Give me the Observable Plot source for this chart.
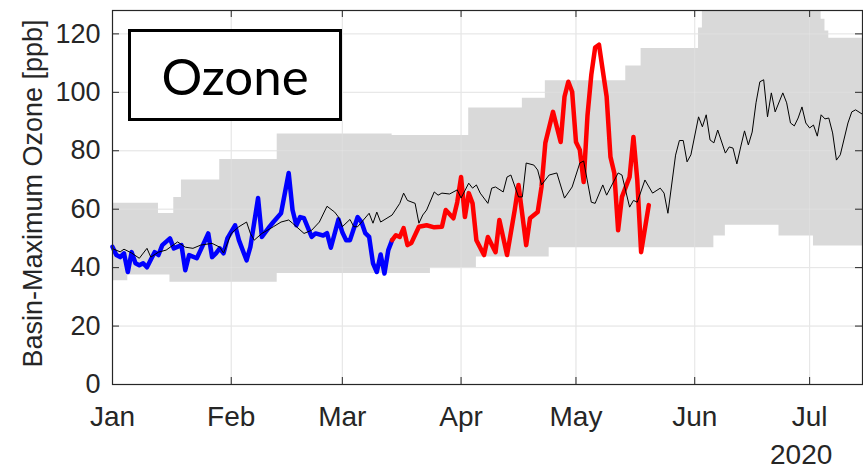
<!DOCTYPE html>
<html>
<head>
<meta charset="utf-8">
<script src="https://cdn.jsdelivr.net/npm/d3@7"></script>
<script src="https://cdn.jsdelivr.net/npm/@observablehq/plot@0.6"></script>
<style>
  html, body { margin: 0; padding: 0; background: #fff; }
  #wrap { position: relative; width: 863px; height: 470px; overflow: hidden; font-family: "Liberation Sans", Arial, sans-serif; }
  #panel { position: absolute; left: 128px; top: 29px; width: 214px; height: 92px; box-sizing: border-box;
           border: 3px solid #000; background: #fff; display: flex; align-items: center; justify-content: center;
           font-family: Lato, "Open Sans", sans-serif; font-size: 51px; color: #000; }
  #year { position: absolute; left: 770px; top: 441px; font-size: 28px; line-height: 28px; color: #262626; }
</style>
</head>
<body>
<div id="wrap"></div>
<script>
// ---------- data (days after 2020-01-01, values in ppb) ----------
const monthTicks = ["2020-01-01","2020-02-01","2020-03-01","2020-04-01","2020-05-01","2020-06-01","2020-07-01"];
const monthLabels = ["Jan","Feb","Mar","Apr","May","Jun","Jul"];
const yTicks = [0, 20, 40, 60, 80, 100, 120];
const yearLabel = "2020";
const yLabel = "Basin-Maximum Ozone [ppb]";
const panelLabel = "Ozone";

// historical range band (step breakpoints)
const bandDay = [0, 4, 12, 15, 16, 18, 28, 43, 73, 83, 93, 95, 107, 113, 114, 134, 138, 153, 154, 157, 160, 174, 183, 185, 186, 187, 196];
const bandHi  = [62, 62, 58.5, 58.5, 64, 70, 77, 85.7, 85.2, 85.2, 94.6, 94.6, 98, 104, 104, 109, 115, 122, 140, 140, 140, 140, 140, 125, 121, 118.5, 118.5];
const bandLo  = [35.5, 37.5, 37.5, 35, 35, 35, 35, 38, 38, 40, 40, 43.6, 43.6, 43.6, 46.8, 46.8, 46.8, 46.8, 46.8, 50.8, 54.5, 50.8, 47.4, 47.4, 47.4, 47.4, 47.4];

// black line: typical year
const blackDay = [0,2,3,5,7,9,10,12,14,17,19,21,23,26,28,29,31,33,35,36,37,39,42,44,46,47,50,52,54,56,58,59,60,62,63,64,67,68,69,70,73,75,76,77,79,80,81,82,84,85,86,88,90,91,93,94,95,96,98,99,100,102,103,104,106,107,108,110,111,112,114,116,118,120,122,123,125,126,128,129,132,133,135,136,137,139,141,143,144,145,147,148,149,150,151,153,154,155,156,157,158,160,161,162,163,164,165,166,167,168,169,170,171,172,173,175,176,177,178,179,180,181,182,183,184,185,186,187,188,189,190,192,193,194,196];
const blackVal = [46.5,45.4,46.3,45,43.2,46.6,43.6,45.3,46,48.8,47,46.6,47.7,48.3,47,45,51.7,54,55.6,51.7,49.4,51.7,54,55.6,56.3,55.2,51.7,52.8,55.6,61,59,57.3,54,56.5,54,54,58.6,55.2,59,55.6,58,62,65.5,63,62,55.2,58,59.7,65.9,64.8,65.5,65.2,66.6,63.8,68.9,67.2,68.3,65.5,62,67.2,67.6,65.9,71,71.7,64.2,64.2,75.8,75.1,73.4,68.3,71.7,72.4,63.8,67.6,75.8,76.5,62.4,62,68.3,64.8,72.4,71.7,60.7,63,62.4,70,65.5,67.2,65.5,58.6,78.5,83.5,83.5,76.2,78.6,91.6,88.2,92.3,83.7,82.7,87.1,79.2,81.3,80.9,75.5,81.3,86.8,82,86.4,96.4,103.6,104.3,91.6,99.8,93.3,99.8,96.4,89.5,88.5,91.2,95,89.5,87.8,88.8,85,92.3,90.9,91.2,86.1,76.8,78.6,89.5,93.3,94,92.3];

// blue line: 2020 before stay-at-home
const blueDay = [0,1,2,3,4,5,6,7,8,9,11,12,13,15,16,18,19,20,22,23,25,26,27,28,29,30,32,33,35,36,38,39,41,42,44,46,47,48,49,50,52,53,55,56,57,59,60,61,62,64,65,66,67,68,69,70,71,72,73];
const blueVal = [47.1,44.3,43.6,44.9,38.5,45.3,41.5,40.8,41.5,40.1,45.3,44.3,47.7,50,46.6,47.7,39.1,44.3,43.2,46,51.7,43.6,44.9,46.6,44.9,50,54.5,49.4,42.5,47.1,63.8,50.5,54,55.6,58.6,72.4,59.7,54.5,57.3,56.9,50.5,51.7,51,51.8,46.8,56.5,52.1,49.4,49.4,57.3,55.6,51.8,50.5,41.5,38.5,44.5,38,46,49.4];

// red line: 2020 during stay-at-home
const redDay = [73,74,75,76,77,78,80,82,84,86,87,89,90,91,92,93,94,95,97,98,100,101,103,105,106,108,109,111,112,113,115,117,118,119,120,121,122,123,124,125,126,127,129,130,131,132,133,135,136,137,138,140];
const redVal = [49.4,51.1,50.5,53.5,47.7,48.4,54,54.5,53.8,54,59.7,56.9,62.4,71,57.3,65.5,62,49.4,44.3,50.5,45.3,56.3,44.3,59.7,68.3,47.7,56.9,59,67.6,82.7,93.3,83,98.5,103.6,100.2,83,80.3,69.3,92,106,115.3,116.3,98.5,77.9,72.4,52.8,64.2,71,84.7,70,45.3,61.4];

// ---------- build tables ----------
const t0 = Date.UTC(2020, 0, 1);
const toDate = d => new Date(t0 + d * 864e5);
const series = (days, vals) => days.map((d, i) => ({date: toDate(d), v: vals[i]}));
const band = bandDay.map((d, i) => ({date: toDate(d), hi: bandHi[i], lo: bandLo[i]}));
const black = series(blackDay, blackVal);
const blue = series(blueDay, blueVal);
const red = series(redDay, redVal);
const monthDates = monthTicks.map(s => new Date(s + "T00:00:00Z"));

const W = 863, H = 470, mL = 112, mR = 1, mT = 10, mB = 86;
const plotW = W - mL - mR, plotH = H - mT - mB;
const axisColor = "#262626";
const gridColor = "#e3e3e3";

const chart = Plot.plot({
  width: W, height: H,
  marginLeft: mL, marginRight: mR, marginTop: mT, marginBottom: mB,
  style: {fontFamily: "'Liberation Sans', Arial, sans-serif", fontSize: "27px", color: axisColor, background: "#fff", overflow: "visible"},
  x: {type: "utc", domain: [toDate(0), toDate(195.8)]},
  y: {domain: [0, 128]},
  marks: [
    Plot.gridY(yTicks, {stroke: gridColor, strokeOpacity: 1}),
    Plot.gridX(monthDates.slice(1), {stroke: gridColor, strokeOpacity: 1}),
    Plot.areaY(band, {x: "date", y1: "lo", y2: "hi", curve: "step-after", fill: "#d9d9d9", clip: true}),
    Plot.gridY(yTicks.slice(1), {stroke: "#ececec", strokeOpacity: 0.35}),
    Plot.gridX(monthDates.slice(1), {stroke: "#ececec", strokeOpacity: 0.35}),
    Plot.line(blue, {x: "date", y: "v", stroke: "#0000ff", strokeWidth: 4.5, strokeLinejoin: "round", strokeLinecap: "round"}),
    Plot.line(red, {x: "date", y: "v", stroke: "#ff0000", strokeWidth: 4.5, strokeLinejoin: "round", strokeLinecap: "round"}),
    Plot.line(black, {x: "date", y: "v", stroke: "#000", strokeWidth: 1, clip: true}),
    Plot.tickX(monthDates, {x: d => d, stroke: axisColor, insetTop: plotH - 7}),
    Plot.tickX(monthDates, {x: d => d, stroke: axisColor, insetBottom: plotH - 7}),
    Plot.tickY(yTicks, {y: d => d, stroke: axisColor, insetRight: plotW - 7}),
    Plot.tickY(yTicks, {y: d => d, stroke: axisColor, insetLeft: plotW - 7}),
    Plot.axisY(yTicks, {tickSize: 0, tickPadding: 12, label: null, fontSize: 27}),
    Plot.axisX(monthDates, {tickSize: 0, tickPadding: 22, label: null, fontSize: 28,
      tickFormat: d => monthLabels[monthDates.findIndex(m => +m === +d)]}),
    Plot.text([yLabel], {frameAnchor: "left", textAnchor: "middle", lineAnchor: "middle", rotate: -90, dx: -79, dy: -4, fontSize: 27, fill: axisColor}),
    Plot.frame({stroke: axisColor, strokeWidth: 1.2})
  ]
});

const wrap = document.getElementById("wrap");
wrap.appendChild(chart);
const panel = document.createElement("div");
panel.id = "panel";
panel.textContent = panelLabel;
wrap.appendChild(panel);
const year = document.createElement("div");
year.id = "year";
year.textContent = yearLabel;
wrap.appendChild(year);
</script>
</body>
</html>
